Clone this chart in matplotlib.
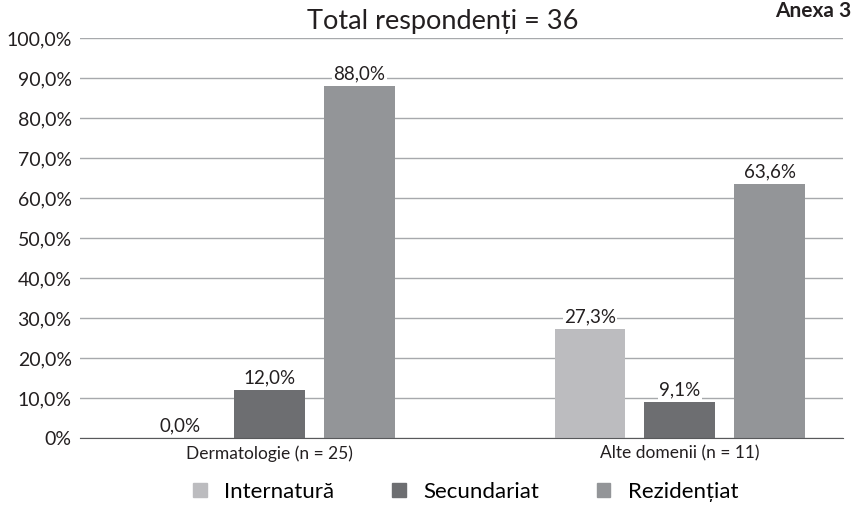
import numpy as np
import matplotlib.pyplot as plt

plt.rcParams['font.family'] = ['Lato', 'DejaVu Sans']

categories = ["Dermatologie (n = 25)", "Alte domenii (n = 11)"]
series = ["Internatură", "Secundariat", "Rezidențiat"]
values = {
    "Internatură": [0.0, 27.3],
    "Secundariat": [12.0, 9.1],
    "Rezidențiat": [88.0, 63.6],
}
colors = {"Internatură": "#bcbcbf", "Secundariat": "#6d6e71", "Rezidențiat": "#939598"}
yticks = np.arange(0, 101, 10)

fig = plt.figure(figsize=(8.53, 5.13), dpi=100)
ax = fig.add_axes([80 / 853, 1 - 438 / 513, (843 - 80) / 853, 400 / 513])

x = np.arange(len(categories))
width = 0.173
offset = 0.219
for i, s in enumerate(series):
    xs = x + (i - 1) * offset
    ax.bar(xs, values[s], width=width, color=colors[s], label=s, zorder=3)
    for xi, v in zip(xs, values[s]):
        ax.text(xi, v + 0.8, f"{v:.1f}%".replace(".", ","), ha="center", va="bottom",
                fontsize=13.5, color="#231f20", zorder=4,
                bbox=dict(facecolor="white", edgecolor="none", pad=1))

ax.set_xlim(-0.463, 1.398)
ax.set_ylim(0, 100)
ax.set_yticks(yticks)
ax.set_yticklabels(["0%"] + [f"{t:.1f}%".replace(".", ",") for t in yticks[1:]],
                   fontsize=14, color="#231f20")
ax.set_xticks(x)
ax.set_xticklabels(categories, fontsize=12.5, color="#231f20")
ax.tick_params(axis="y", length=0, pad=6)
ax.tick_params(axis="x", length=0, pad=5)
ax.grid(axis="y", color="#a7a9ac", linewidth=1, zorder=0)
for side in ("top", "right", "left"):
    ax.spines[side].set_visible(False)
ax.spines["bottom"].set_color("#58595b")
ax.spines["bottom"].set_zorder(5)

fig.text(443 / 853, 1 - 22 / 513, "Total respondenți = 36", ha="center", va="center",
         fontsize=19.5, color="#231f20")
fig.text(851 / 853, 1 - 1 / 513, "Anexa 3", ha="right", va="top",
         fontsize=15, fontweight="bold", color="#231f20")

handles = [plt.Rectangle((0, 0), 1, 1, color=colors[s]) for s in series]
fig.legend(handles, series, loc="center", bbox_to_anchor=(466 / 853, 1 - 492 / 513),
           ncol=3, frameon=False, fontsize=16, handlelength=0.6, handleheight=0.6,
           columnspacing=2.6, handletextpad=0.8)

fig.savefig("out.png", dpi=100)
